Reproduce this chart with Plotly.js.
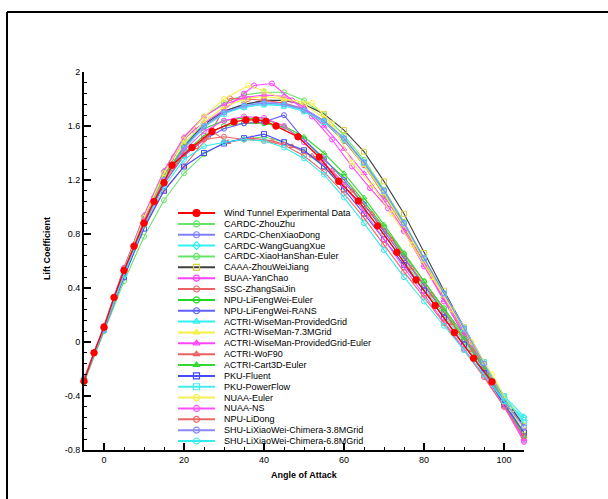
<!DOCTYPE html>
<html>
<head>
<meta charset="utf-8">
<script src="https://cdn.plot.ly/plotly-3.0.1.min.js"></script>
<style>html,body{margin:0;padding:0;background:#fff;}#chart{width:608px;height:499px;}</style>
</head>
<body>
<div id="chart"></div>
<script>
// ---- data ----
const seriesNames = [
  "Wind Tunnel Experimental Data","CARDC-ZhouZhu","CARDC-ChenXiaoDong","CARDC-WangGuangXue",
  "CARDC-XiaoHanShan-Euler","CAAA-ZhouWeiJiang","BUAA-YanChao","SSC-ZhangSaiJin",
  "NPU-LiFengWei-Euler","NPU-LiFengWei-RANS","ACTRI-WiseMan-ProvidedGrid","ACTRI-WiseMan-7.3MGrid",
  "ACTRI-WiseMan-ProvidedGrid-Euler","ACTRI-WoF90","ACTRI-Cart3D-Euler","PKU-Fluent",
  "PKU-PowerFlow","NUAA-Euler","NUAA-NS","NPU-LiDong",
  "SHU-LiXiaoWei-Chimera-3.8MGrid","SHU-LiXiaoWei-Chimera-6.8MGrid"
];
const xTickVals = [0, 20, 40, 60, 80, 100];
const xTickText = ["0", "20", "40", "60", "80", "100"];
const yTickVals = [-0.8, -0.4, 0, 0.4, 0.8, 1.2, 1.6, 2];
const yTickText = ["-0.8", "-0.4", "0", "0.4", "0.8", "1.2", "1.6", "2"];

const aoaExp = [-5,-2.5,0,2.5,5,7.5,10,12.5,15,17,22,27,32.5,35.5,38,40.5,43,48.5,53.8,58.7,63.6,68.4,73.2,78,82.8,87.6,92.4,97];
const clExp  = [-0.29,-0.08,0.11,0.33,0.53,0.71,0.88,1.04,1.18,1.31,1.44,1.56,1.63,1.645,1.645,1.635,1.6,1.52,1.37,1.19,1.045,0.86,0.665,0.46,0.27,0.07,-0.12,-0.295];

const aoaStd = [-5,0,5,10,15,20,25,30,35,40,45,50,55,60,65,70,75,80,85,90,95,100,105];
const clZhouZhu       = [-0.30,0.08,0.45,0.78,1.05,1.25,1.39,1.48,1.50,1.52,1.48,1.41,1.30,1.15,0.98,0.80,0.60,0.40,0.20,0.00,-0.22,-0.47,-0.72];
const clChenXiaoDong  = [-0.28,0.09,0.50,0.88,1.20,1.45,1.61,1.71,1.76,1.78,1.77,1.73,1.64,1.50,1.32,1.10,0.86,0.60,0.34,0.09,-0.17,-0.42,-0.63];
const clWangGuangXue  = [-0.27,0.10,0.51,0.89,1.21,1.46,1.62,1.70,1.74,1.76,1.75,1.71,1.63,1.49,1.31,1.09,0.85,0.59,0.33,0.08,-0.17,-0.41,-0.58];
const clXiaoHanShan   = [-0.29,0.11,0.54,0.93,1.26,1.51,1.67,1.77,1.83,1.85,1.85,1.79,1.68,1.53,1.35,1.13,0.89,0.62,0.35,0.10,-0.16,-0.43,-0.69];
const clZhouWeiJiang  = [-0.28,0.10,0.51,0.89,1.21,1.45,1.61,1.71,1.76,1.79,1.79,1.76,1.69,1.57,1.41,1.19,0.95,0.66,0.38,0.11,-0.15,-0.41,-0.62];
const aoaYanChao      = [-5,0,5,10,12.5,15,17.5,20,22.5,25,30,35,37.5,42,47,52,57,62,66.5,71,75,80,85,90,95,100,105];
const clYanChao       = [-0.27,0.12,0.55,0.92,1.07,1.22,1.37,1.50,1.57,1.62,1.72,1.84,1.90,1.915,1.79,1.67,1.50,1.30,1.14,0.99,0.82,0.56,0.30,0.05,-0.20,-0.47,-0.74];
const aoaZhangSaiJin  = [-5,0,5,10,15,20,23,26,31.5,36,40,45,50,55,60,65,70,75,80,85,90,95,100];
const clZhangSaiJin   = [-0.29,0.10,0.52,0.90,1.20,1.40,1.45,1.52,1.805,1.80,1.79,1.77,1.72,1.63,1.49,1.31,1.09,0.85,0.59,0.33,0.08,-0.17,-0.42];
const clNpuEuler      = [-0.29,0.11,0.53,0.90,1.20,1.40,1.53,1.60,1.62,1.62,1.59,1.50,1.35,1.22,1.04,0.85,0.65,0.45,0.25,0.05,-0.17,-0.43,-0.69];
const clNpuRans       = [-0.28,0.09,0.50,0.87,1.17,1.38,1.50,1.58,1.62,1.63,1.68,1.50,1.36,1.20,1.02,0.82,0.62,0.42,0.22,0.02,-0.20,-0.45,-0.66];
const clWiseManGrid   = [-0.28,0.09,0.50,0.88,1.20,1.44,1.60,1.70,1.75,1.77,1.76,1.72,1.64,1.51,1.33,1.11,0.87,0.61,0.35,0.10,-0.15,-0.40,-0.55];
const clWiseMan73     = [-0.28,0.10,0.52,0.90,1.22,1.47,1.63,1.74,1.80,1.82,1.80,1.76,1.66,1.50,1.31,1.10,0.86,0.60,0.34,0.09,-0.16,-0.43,-0.66];
const clWiseManEuler  = [-0.29,0.11,0.55,0.94,1.27,1.52,1.67,1.76,1.81,1.83,1.82,1.74,1.60,1.43,1.25,1.05,0.83,0.57,0.31,0.06,-0.19,-0.45,-0.72];
const aoaWoF90        = [-5,0,5,10,15,20,27,31,37,42,47,52,57,62,67,72,77,82,87,92,97];
const clWoF90         = [-0.29,0.10,0.50,0.86,1.12,1.30,1.56,1.48,1.51,1.49,1.45,1.38,1.27,1.12,0.95,0.76,0.55,0.35,0.14,-0.06,-0.28];
const clCart3D        = [-0.29,0.11,0.54,0.92,1.23,1.45,1.58,1.64,1.66,1.65,1.60,1.52,1.40,1.25,1.07,0.87,0.66,0.45,0.24,0.03,-0.19,-0.44,-0.70];
const clPkuFluent     = [-0.28,0.09,0.48,0.84,1.12,1.30,1.40,1.47,1.51,1.54,1.48,1.42,1.30,1.13,0.95,0.76,0.57,0.38,0.18,-0.02,-0.23,-0.46,-0.67];
const clPowerFlow     = [-0.28,0.09,0.50,0.87,1.19,1.43,1.59,1.69,1.74,1.76,1.75,1.71,1.63,1.50,1.33,1.12,0.88,0.62,0.36,0.10,-0.15,-0.40,-0.60];
const aoaNuaaEuler    = [-5,0,5,10,15,20,25,30,36,40,45,52,57,62,67,72,77,82,87,92,97,102];
const clNuaaEuler     = [-0.28,0.11,0.53,0.92,1.25,1.50,1.67,1.80,1.90,1.86,1.80,1.77,1.62,1.33,1.16,0.95,0.72,0.48,0.24,0.00,-0.24,-0.50];
const clNuaaNs        = [-0.28,0.10,0.52,0.90,1.20,1.42,1.56,1.64,1.67,1.66,1.60,1.48,1.33,1.16,0.97,0.76,0.55,0.35,0.15,-0.05,-0.25,-0.48,-0.73];
const clLiDong        = [-0.29,0.11,0.52,0.89,1.18,1.39,1.50,1.52,1.50,1.49,1.46,1.38,1.26,1.10,0.92,0.72,0.52,0.33,0.14,-0.06,-0.26,-0.48,-0.70];
const clShu38         = [-0.28,0.09,0.50,0.88,1.20,1.44,1.60,1.70,1.75,1.77,1.76,1.72,1.64,1.51,1.33,1.12,0.88,0.62,0.36,0.10,-0.16,-0.44,-0.63];
const clShu68         = [-0.29,0.10,0.50,0.87,1.15,1.35,1.45,1.48,1.50,1.49,1.44,1.36,1.24,1.07,0.88,0.68,0.48,0.30,0.12,-0.06,-0.24,-0.44,-0.56];

// ---- styles ----
const lineColors = ["#ff0000","#66e666","#7f7fff","#33f0f0","#66e666","#404040","#ff40ff","#ec6262",
  "#22d822","#6060ff","#33f0f0","#f4f040","#ff44ff","#ec6262","#33d833","#4848ff",
  "#44ecec","#f4f050","#ff50ff","#ec6666","#8888ff","#33ecec"];
const markerColors = lineColors.slice(); markerColors[5] = "#d8d040";
const markerSymbols = ["circle","circle-open","circle-open","diamond-open","circle-open","square-open","circle-open","circle-open",
  "circle-open","circle-open","triangle-up-open","triangle-up-open","triangle-up-open","triangle-up-open","triangle-up-open","square-open",
  "square-open","circle-open","circle-open","circle-open","circle-open","circle-open"];

const seriesX = [aoaExp, aoaStd, aoaStd, aoaStd, aoaStd, aoaStd, aoaYanChao, aoaZhangSaiJin,
  aoaStd, aoaStd, aoaStd, aoaStd, aoaStd, aoaWoF90, aoaStd, aoaStd, aoaStd, aoaNuaaEuler, aoaStd, aoaStd, aoaStd, aoaStd];
const seriesY = [clExp, clZhouZhu, clChenXiaoDong, clWangGuangXue, clXiaoHanShan, clZhouWeiJiang, clYanChao, clZhangSaiJin,
  clNpuEuler, clNpuRans, clWiseManGrid, clWiseMan73, clWiseManEuler, clWoF90, clCart3D, clPkuFluent,
  clPowerFlow, clNuaaEuler, clNuaaNs, clLiDong, clShu38, clShu68];

const traces = [];
// data traces, experimental drawn last (on top)
const order = [];
for (let i = 1; i < seriesNames.length; i++) order.push(i);
order.push(0);
order.forEach(i => {
  const isExp = i === 0;
  traces.push({
    type: "scatter", mode: "lines+markers", name: seriesNames[i],
    x: seriesX[i], y: seriesY[i], xaxis: "x", yaxis: "y",
    line: {color: lineColors[i], width: isExp ? 1.3 : 1.1},
    marker: {symbol: markerSymbols[i], size: isExp ? 6.5 : 5, color: markerColors[i], line: {width: 1, color: markerColors[i]}},
    showlegend: false, hoverinfo: "skip", cliponaxis: false
  });
});
// custom legend drawn on a second pair of axes (x2: 0..1 is the sample line)
seriesNames.forEach((nm, i) => {
  const isExp = i === 0;
  traces.push({
    type: "scatter", mode: "lines+markers", x: [0, 0.5, 1], y: [i, i, i], xaxis: "x2", yaxis: "y2",
    line: {color: lineColors[i], width: 2},
    marker: {symbol: markerSymbols[i], size: isExp ? 7 : 6, color: markerColors[i], opacity: [0, 1, 0], line: {width: 1.2, color: markerColors[i]}},
    showlegend: false, hoverinfo: "skip"
  });
});

const font = {family: "Liberation Sans, Arial, sans-serif", size: 9, color: "#000"};
const legendLabels = seriesNames.map((nm, i) => ({
  text: nm, xref: "x2", yref: "y2", x: 1.19, y: i, xanchor: "left", yanchor: "middle",
  showarrow: false, font: font
}));

const layout = {
  width: 608, height: 499,
  margin: {l: 84, r: 84, t: 72, b: 49, pad: 0},
  paper_bgcolor: "#fff", plot_bgcolor: "rgba(0,0,0,0)",
  font: font, showlegend: false,
  xaxis: {
    range: [-5, 105], tickmode: "array", tickvals: xTickVals, ticktext: xTickText,
    ticks: "inside", ticklen: 7, tickwidth: 2, tickcolor: "#000",
    showline: true, linewidth: 2, linecolor: "#000", showgrid: false, zeroline: false,
    minor: {ticks: "inside", ticklen: 3, tickwidth: 1, tickcolor: "#000", tick0: 0, dtick: 5, showgrid: false},
    tickfont: font, fixedrange: true
  },
  yaxis: {
    range: [-0.8, 2], tickmode: "array", tickvals: yTickVals, ticktext: yTickText,
    ticks: "inside", ticklen: 7, tickwidth: 2, tickcolor: "#000",
    showline: true, linewidth: 2, linecolor: "#000", showgrid: false, zeroline: false,
    minor: {ticks: "inside", ticklen: 3, tickwidth: 1, tickcolor: "#000", tick0: 0, dtick: 0.08, showgrid: false},
    tickfont: font, fixedrange: true
  },
  xaxis2: {domain: [(178 - 84) / 440, (380 - 84) / 440], range: [0, (380 - 178) / 37], visible: false, anchor: "y2", fixedrange: true},
  yaxis2: {domain: [0.0094, 0.6413], range: [21.5, -0.5], visible: false, anchor: "x2", fixedrange: true},
  annotations: [
    {text: "<b>Angle of Attack</b>", xref: "paper", yref: "paper", x: 0.5, y: (450 - 475) / 378,
     xanchor: "center", yanchor: "middle", showarrow: false, font: font},
    {text: "<b>Lift Coefficient</b>", xref: "paper", yref: "paper", x: (47 - 84) / 440, y: (450 - 249) / 378,
     xanchor: "center", yanchor: "middle", textangle: -90, showarrow: false, font: font}
  ].concat(legendLabels),
  shapes: [
    {type: "line", xref: "paper", yref: "paper", x0: (7 - 84) / 440, x1: (620 - 84) / 440,
     y0: (450 - 12) / 378, y1: (450 - 12) / 378, line: {color: "#000", width: 2}},
    {type: "line", xref: "paper", yref: "paper", x0: (7 - 84) / 440, x1: (7 - 84) / 440,
     y0: (450 - 12) / 378, y1: (450 - 520) / 378, line: {color: "#000", width: 2}}
  ]
};
Plotly.newPlot("chart", traces, layout, {displayModeBar: false, staticPlot: true});
</script>
</body>
</html>
